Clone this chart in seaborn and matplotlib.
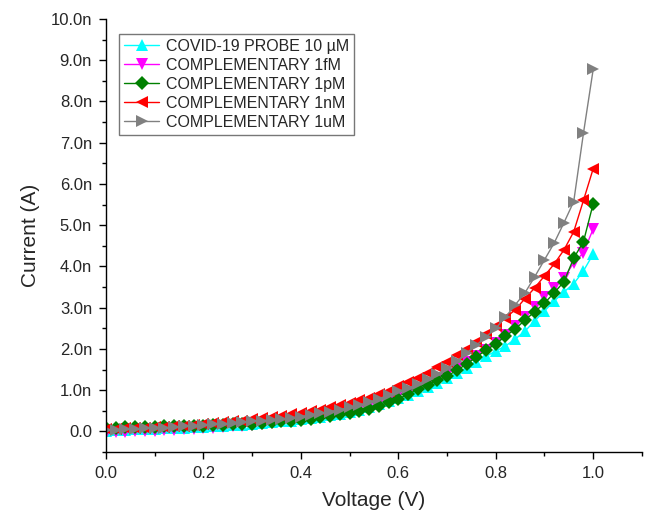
import matplotlib
matplotlib.use("Agg")
import matplotlib.pyplot as plt
import seaborn as sns
import pandas as pd
from matplotlib.ticker import MultipleLocator, FuncFormatter

# voltage sweep (V)
voltage = [round(i * 0.02, 2) for i in range(51)]

# currents in nA
probe_10uM = [0.02, 0.03, 0.04, 0.05, 0.05, 0.06, 0.07, 0.08, 0.09, 0.10,
              0.11, 0.12, 0.14, 0.15, 0.16, 0.18, 0.20, 0.22, 0.24, 0.26,
              0.29, 0.32, 0.35, 0.39, 0.43, 0.48, 0.53, 0.59, 0.66, 0.73,
              0.81, 0.89, 0.98, 1.08, 1.18, 1.29, 1.41, 1.54, 1.68, 1.82,
              1.95, 2.07, 2.24, 2.43, 2.68, 2.92, 3.16, 3.38, 3.58, 3.89,
              4.30]
comp_1fM = [-0.03, -0.02, -0.01, 0.00, 0.01, 0.02, 0.03, 0.04, 0.05, 0.06,
            0.07, 0.09, 0.10, 0.12, 0.14, 0.16, 0.18, 0.21, 0.24, 0.27,
            0.30, 0.34, 0.38, 0.42, 0.47, 0.52, 0.58, 0.64, 0.71, 0.79,
            0.87, 0.96, 1.06, 1.16, 1.28, 1.40, 1.53, 1.67, 1.82, 1.98,
            2.15, 2.33, 2.55, 2.78, 3.02, 3.25, 3.48, 3.72, 4.09, 4.33,
            4.91]
comp_1pM = [0.08, 0.09, 0.10, 0.10, 0.11, 0.11, 0.12, 0.12, 0.13, 0.14,
            0.14, 0.15, 0.16, 0.17, 0.18, 0.19, 0.20, 0.22, 0.24, 0.26,
            0.28, 0.31, 0.34, 0.37, 0.41, 0.45, 0.50, 0.55, 0.62, 0.70,
            0.78, 0.90, 1.02, 1.12, 1.24, 1.34, 1.48, 1.63, 1.80, 1.97,
            2.12, 2.31, 2.48, 2.70, 2.90, 3.11, 3.36, 3.63, 4.20, 4.60,
            5.52]
comp_1nM = [0.05, 0.06, 0.07, 0.08, 0.09, 0.10, 0.11, 0.13, 0.14, 0.16,
            0.18, 0.20, 0.22, 0.24, 0.26, 0.29, 0.32, 0.35, 0.38, 0.41,
            0.45, 0.49, 0.53, 0.58, 0.63, 0.69, 0.75, 0.82, 0.90, 0.99,
            1.09, 1.19, 1.30, 1.42, 1.55, 1.69, 1.84, 2.00, 2.17, 2.36,
            2.56, 2.75, 2.95, 3.22, 3.48, 3.77, 4.06, 4.40, 4.84, 5.60,
            6.37]
comp_1uM = [0.03, 0.04, 0.05, 0.06, 0.07, 0.08, 0.09, 0.11, 0.12, 0.14,
            0.15, 0.17, 0.18, 0.20, 0.22, 0.24, 0.26, 0.28, 0.30, 0.33,
            0.36, 0.40, 0.44, 0.48, 0.53, 0.58, 0.64, 0.71, 0.79, 0.88,
            0.97, 1.05, 1.14, 1.27, 1.39, 1.53, 1.70, 1.90, 2.09, 2.29,
            2.50, 2.77, 3.07, 3.36, 3.75, 4.16, 4.57, 5.06, 5.57, 7.23,
            8.78]

labels = ["COVID-19 PROBE 10 \u00b5M", "COMPLEMENTARY 1fM", "COMPLEMENTARY 1pM",
          "COMPLEMENTARY 1nM", "COMPLEMENTARY 1uM"]
series = [probe_10uM, comp_1fM, comp_1pM, comp_1nM, comp_1uM]
colors = ["#00FFFF", "#FF00FF", "#008000", "#FF0000", "#808080"]
markers = ["^", "v", "D", "<", ">"]

rows = []
for lab, vals in zip(labels, series):
    for v, c in zip(voltage, vals):
        rows.append({"Voltage (V)": v, "Current (A)": c, "Sample": lab})
df = pd.DataFrame(rows)

sns.set_theme(style="ticks")
plt.rcParams["font.family"] = ["Liberation Sans", "DejaVu Sans"]

fig = plt.figure(figsize=(6.48, 5.11), dpi=100)
ax = fig.add_axes([0.1636, 0.1155, 0.827, 0.8473])

sns.lineplot(
    data=df, x="Voltage (V)", y="Current (A)",
    hue="Sample", style="Sample",
    hue_order=labels, style_order=labels,
    palette=dict(zip(labels, colors)),
    markers=dict(zip(labels, markers)),
    dashes=False, linewidth=1, markersize=9,
    markeredgewidth=0, ax=ax,
)
# diamonds look bigger than triangles at the same size
for ln in ax.lines:
    if ln.get_marker() == "D":
        ln.set_markersize(7)

ax.set_xlim(0, 1.1)
ax.set_ylim(-0.5, 10)
ax.xaxis.set_major_locator(MultipleLocator(0.2))
ax.xaxis.set_minor_locator(MultipleLocator(0.1))
ax.yaxis.set_major_locator(MultipleLocator(1))
ax.yaxis.set_minor_locator(MultipleLocator(0.5))
ax.xaxis.set_major_formatter(FuncFormatter(lambda v, p: f"{v:.1f}"))
ax.yaxis.set_major_formatter(
    FuncFormatter(lambda v, p: "0.0" if abs(v) < 1e-9 else f"{v:.1f}n"))
ax.tick_params(which="major", length=5, width=1, labelsize=12, pad=5,
               color="black")
ax.tick_params(which="minor", length=3, width=1, color="black")
for s in ["left", "bottom"]:
    ax.spines[s].set_color("black")
    ax.spines[s].set_linewidth(1)
sns.despine(ax=ax)

ax.set_xlabel("Voltage (V)", fontsize=15, labelpad=7)
ax.set_ylabel("Current (A)", fontsize=15, labelpad=8)

leg = ax.legend(loc="upper left", bbox_to_anchor=(0.025, 0.965), fontsize=11.5,
                frameon=True, fancybox=False, edgecolor="#555555",
                borderpad=0.3, labelspacing=0.25, handlelength=2.2,
                handletextpad=0.4, borderaxespad=0)
leg.get_frame().set_linewidth(1)
for h in leg.legend_handles:
    if h.get_marker() == "D":
        h.set_markersize(7)

fig.savefig("out.png", dpi=100)
